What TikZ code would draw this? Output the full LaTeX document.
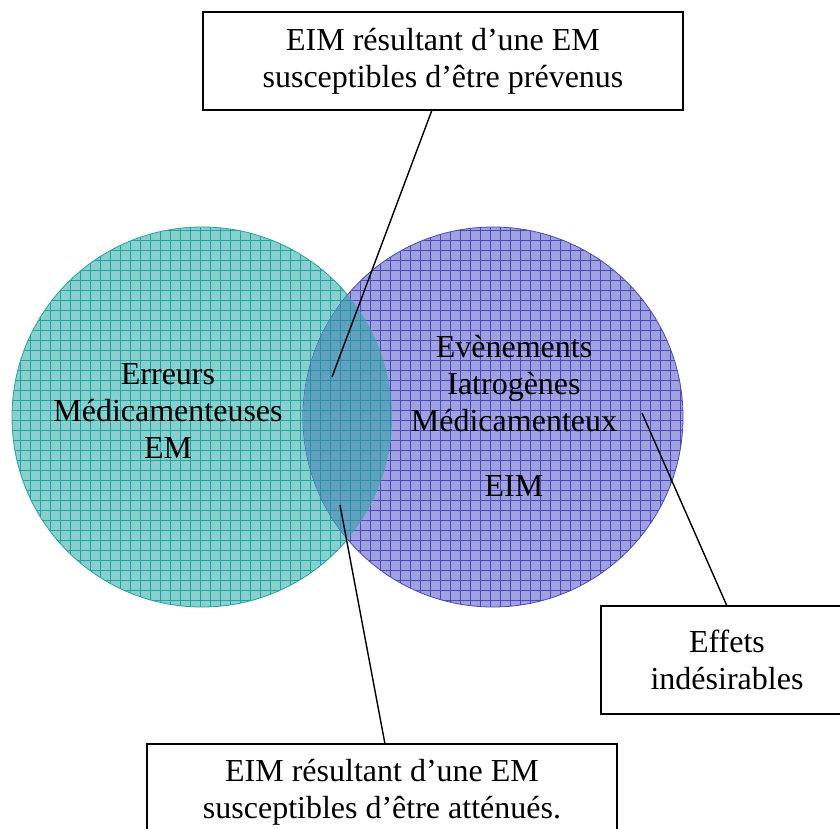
\documentclass[tikz,border=0pt]{standalone}
\usepackage{fontspec}
\setmainfont{Liberation Serif}
\usepackage{xcolor}

\definecolor{emfill}{HTML}{88D0CE}
\definecolor{emgrid}{HTML}{22A2A0}
\definecolor{eimfill}{HTML}{A0A1E0}
\definecolor{eimgrid}{HTML}{4A4AB6}
\definecolor{bothfill}{HTML}{5EA2C0}
\definecolor{bothgrid}{HTML}{2E8EA6}

\tikzset{
  textbox/.style={draw, line width=1.4pt, fill=white, align=center,
    font=\fontsize{32}{37}\selectfont, inner sep=0pt},
  pointer/.style={line width=1.4pt},
  setlabel/.style={align=center, font=\fontsize{32}{37}\selectfont}
}

% set disc with a squared pattern
\newcommand{\vennset}[4]{
  \begin{scope}
    \clip (#1) circle (190pt);
    \fill[#2] (#1) circle (190pt);
    \draw[#3, line width=0.8pt, step=10pt] ($(#1)+(-200,-200)$) grid ($(#1)+(200,200)$);
  \end{scope}
  \draw[#4, line width=0.8pt] (#1) circle (190pt);
}

\usetikzlibrary{calc}

\begin{document}
\begin{tikzpicture}[x=1pt, y=-1pt]
\useasboundingbox (0,0) rectangle (840,829);
\clip (0,0) rectangle (840,829);

\coordinate (emc) at (202,417);
\coordinate (eimc) at (493,417);

\vennset{emc}{emfill}{emgrid}{emgrid}
\vennset{eimc}{eimfill}{eimgrid}{eimgrid}

% overlap
\begin{scope}
  \clip (emc) circle (190pt);
  \clip (eimc) circle (190pt);
  \fill[bothfill] (eimc) circle (190pt);
  \draw[bothgrid, line width=0.8pt, step=10pt] (290,220) grid (400,620);
\end{scope}

\node[setlabel] (emlabel) at (168,411) {Erreurs\\ Médicamenteuses\\ EM};
\node[setlabel] (eimlabel) at (514,416) {Evènements\\ Iatrogènes\\ Médicamenteux\\[28pt] EIM};

\node[textbox, minimum width=480pt, minimum height=98pt] (prevbox) at (443,61)
  {EIM résultant d’une EM\\ susceptibles d’être prévenus};
\node[textbox, minimum width=252pt, minimum height=108pt] (effbox) at (727,660)
  {Effets\\ indésirables};
\node[textbox, minimum width=470pt, minimum height=96pt] (attbox) at (382,792)
  {EIM résultant d’une EM\\ susceptibles d’être atténués.};

\coordinate (prevtop) at (432,110);
\coordinate (prevend) at (332,377);
\coordinate (efftop) at (727,606);
\coordinate (effend) at (642,413);
\coordinate (atttop) at (385,744);
\coordinate (attend) at (340,505);

\draw[pointer] (prevtop) -- (prevend);
\draw[pointer] (efftop) -- (effend);
\draw[pointer] (atttop) -- (attend);

\end{tikzpicture}
\end{document}
